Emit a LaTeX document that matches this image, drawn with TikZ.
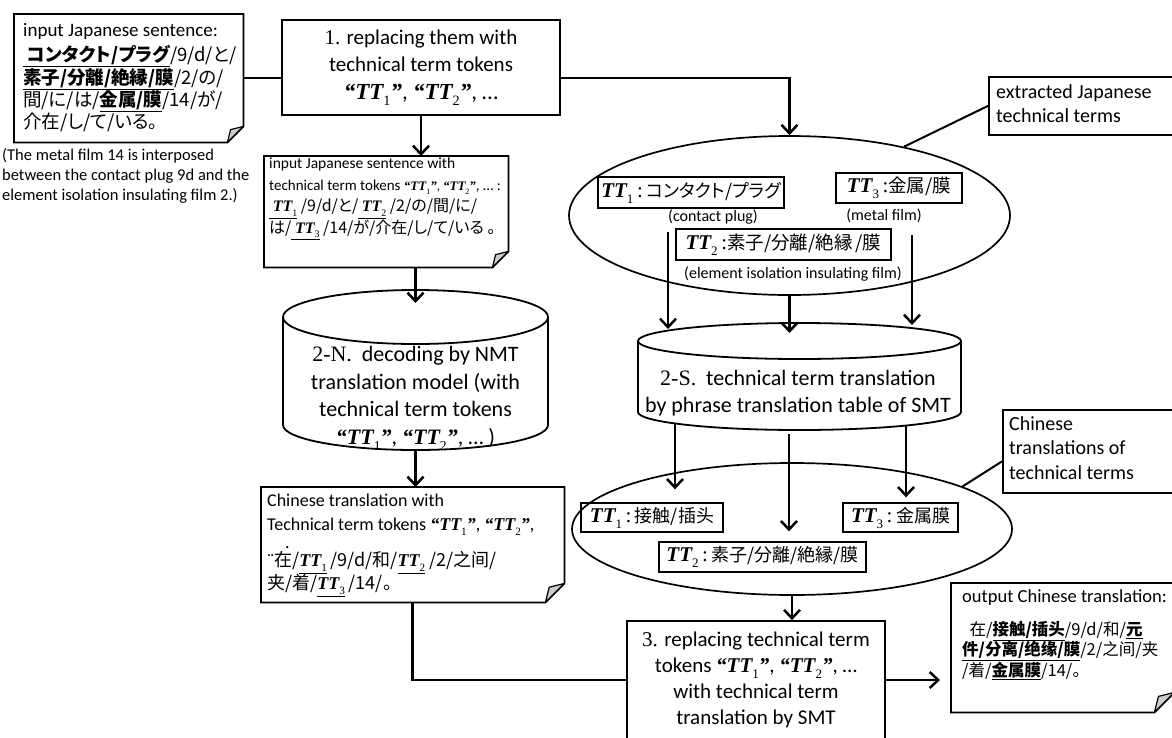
\documentclass[tikz,border=0pt]{standalone}
\usepackage{graphicx}
\usepackage{fontspec}
\setmainfont{Carlito}
\newfontfamily\tms{Liberation Serif}
\newfontfamily\jp{Noto Sans CJK JP}[RawFeature=+palt]
\newfontfamily\zh{Noto Sans CJK SC}[RawFeature=+palt]
\usetikzlibrary{arrows.meta,shapes.geometric,calc}

\newcommand\setfs[2]{\fontsize{#1}{#2}\selectfont}
% technical term token TT_n and its quoted form
\newcommand\ttk[1]{{\tms\bfseries\itshape TT}\raisebox{-0.28em}{\scalebox{0.62}{\tms #1}}}
\newcommand\qtk[1]{{\tms\bfseries\itshape “}\ttk{#1}{\tms\bfseries\itshape ”}}
% outline of a note with a folded lower right corner
\newcommand\notepath[2]{%
  \draw[shapeline] (#1.north west) -- (#1.north east) -- ([yshift=#2]#1.south east)
    -- ([xshift=-#2]#1.south east) -- (#1.south west) -- cycle;
  \draw[line width=1.2pt, fill=gray!40, line join=round]
    ([xshift=-#2]#1.south east) -- ([yshift=#2]#1.south east)
    -- ([shift={(-0.8*#2,0.8*#2)}]#1.south east) -- cycle;}

\tikzset{
  shapeline/.style={line width=1.8pt},
  boxline/.style={draw, line width=1.8pt, inner sep=0pt},
  blank/.style={inner sep=0pt, anchor=north west},
  txt/.style={inner sep=0pt, align=left, anchor=north west},
  ctext/.style={inner sep=0pt, align=center},
  term/.style={draw, line width=1.4pt, inner sep=0pt, font=\setfs{21}{24}},
  gloss/.style={inner sep=0pt, font=\setfs{16}{18}},
  link/.style={line width=2.5pt},
  arr/.style={line width=2.5pt, -{Straight Barb[length=8.5pt,width=16pt]}},
  lead/.style={line width=2pt},
}

\begin{document}
\begin{tikzpicture}[x=1pt,y=-1pt]
\useasboundingbox (0,0) rectangle (1172,737);
\clip (0,0) rectangle (1172,737);
\fill[white] (0,0) rectangle (1172,737);

% ---- input sentence note
\node[blank, minimum width=229pt, minimum height=128pt] (tl) at (14,14) {};
\notepath{tl}{16pt}
\node[txt, font=\jp\setfs{18.5}{20.5}] (tltext) at (23,23) {%
  {\rmfamily\setfs{19}{20}input Japanese sentence:}\\[5pt]
  \underline{\bfseries\ コンタクト/プラグ}/9/d/と/\\
  \underline{\bfseries 素子/分離/絶縁/膜}/2/の/\\
  間/に/は/\underline{\bfseries 金属/膜}/14/が/\\
  介在/し/て/いる。};
\node[txt, font=\setfs{16.5}{20}] (caption) at (2,148)
  {(The metal film 14 is interposed\\between the contact plug 9d and the\\element isolation insulating film 2.)};

% ---- step 1
\node[boxline, ctext, minimum width=278pt, minimum height=95pt, font=\setfs{21}{27.5}] (b1) at (421,67.5)
  {{\tms 1.} replacing them with\\technical term tokens\\{\setfs{23}{27.5}\qtk{1}, \qtk{2}, …}};

% ---- sentence with tokens
\node[blank, minimum width=244pt, minimum height=111pt] (n2) at (264,156) {};
\notepath{n2}{16pt}
\node[txt, font=\setfs{15.5}{21.5}] (n2text) at (269,158) {%
  input Japanese sentence with\\
  {\setfs{15}{15}technical term tokens {\setfs{13}{14}\qtk{1}, \qtk{2}}, … :}\\
  {\jp\setfs{16}{16}\underline{\ \ttk{1}} /9/d/と/\underline{\ \ttk{2}} /2/の/間/に/}\\
  {\jp\setfs{16}{16}は/\underline{\ \ttk{3}} /14/が/介在/し/て/いる 。}};

% ---- NMT decoding cylinder
\draw[shapeline, fill=white] (283,317) -- (283,425)
  arc[start angle=180, end angle=360, x radius=132.5pt, y radius=25pt] -- (548,317);
\draw[shapeline] (415.5,317) ellipse [x radius=132.5pt, y radius=27pt];
\node[ctext, font=\setfs{22}{27.5}] (cN) at (415.5,398.5)
  {{\tms 2-N.}\ \ decoding by NMT\\translation model (with\\technical term tokens\\\qtk{1}, \qtk{2}, … )};
\coordinate (cNtop) at (415.5,303);
\coordinate (cNbot) at (415.5,451);

% ---- Chinese translation with tokens
\node[blank, minimum width=303pt, minimum height=115pt] (n3) at (261,487) {};
\notepath{n3}{19pt}
\node[txt, font=\setfs{18}{20}] (n3text) at (267,494) {%
  Chinese translation with\\[4pt]
  Technical term tokens \qtk{1}, \qtk{2},\\[-2pt]
  \hspace*{18pt}.\\[-2pt]
  {\zh{\rmfamily ¨}在/\underline{\ttk{1}} /9/d/和/\underline{\ttk{2}} /2/之间/}\\
  {\zh 夹/着/\underline{\ttk{3}} /14/。}};

% ---- extracted Japanese terms
\node[draw, ellipse, line width=1.7pt, inner sep=0pt, minimum width=441pt, minimum height=159pt] (ejp) at (789.5,215.5) {};
\node[term, minimum width=186pt, minimum height=31pt] (j1) at (691,192.5)
  {\ttk{1}\,{\tms :}\,{\jp\setfs{18}{22}コンタクト/プラグ}};
\node[term, minimum width=126pt, minimum height=30pt] (j3) at (899,188)
  {\ttk{3}\,{\tms :}{\jp\setfs{18.5}{22}金属/膜}};
\node[term, minimum width=215pt, minimum height=31pt] (j2) at (783.5,244.5)
  {\ttk{2}\,{\tms :}{\jp\setfs{18.5}{22}素子/分離/絶縁\,/膜}};
\node[gloss] (g1) at (713,217) {(contact plug)};
\node[gloss] (g3) at (884,216) {(metal film)};
\node[gloss] (g2) at (793,274) {(element isolation insulating film)};

% ---- SMT phrase table cylinder
\draw[shapeline, fill=white] (638,341) -- (638,412)
  arc[start angle=180, end angle=360, x radius=161.5pt, y radius=18pt] -- (961,341);
\draw[shapeline] (799.5,341) ellipse [x radius=161.5pt, y radius=18pt];
\node[ctext, font=\setfs{22}{27}] (cS) at (798,393.5)
  {{\tms 2-S.}\ \ technical term translation\\by phrase translation table of SMT};

% ---- translated terms
\node[draw, ellipse, line width=1.7pt, inner sep=0pt, minimum width=440pt, minimum height=132pt] (ezh) at (792,529) {};
\node[term, minimum width=142pt, minimum height=29pt] (z1) at (652,517.5)
  {\ttk{1}\,{\tms :}\,{\zh\setfs{18}{22}接触/插头}};
\node[term, minimum width=115pt, minimum height=29pt] (z3) at (900.5,517.5)
  {\ttk{3}\,{\tms :}\,{\zh\setfs{18}{22}金属膜}};
\node[term, minimum width=207pt, minimum height=30pt] (z2) at (762.5,557)
  {\ttk{2}\,{\tms :}\,{\jp\setfs{18}{22}素子/分離/絶縁/膜}};

% ---- step 3
\node[boxline, ctext, minimum width=258pt, minimum height=118pt, font=\setfs{21}{26}] (b3) at (756,680)
  {{\tms 3.} replacing technical term\\tokens \qtk{1}, \qtk{2}, …\\with technical term\\translation by SMT};

% ---- output note
\node[blank, minimum width=223pt, minimum height=129pt] (out) at (951,583) {};
\notepath{out}{20pt}
\node[txt, font=\zh\setfs{16.5}{17.5}] (outtext) at (962,589) {%
  {\rmfamily\setfs{18.5}{18}output Chinese translation:}\\[16pt]
  \ \ 在/\underline{\bfseries 接触/插头}/9/d/和/\underline{\bfseries 元}\\
  \underline{\bfseries 件/分离/绝缘/膜}/2/之间/夹\\
  /着/\underline{\bfseries 金属膜}/14/。};

% ---- callouts
\node[boxline, anchor=north west, minimum width=186pt, minimum height=58pt] (co1) at (988,76) {};
\node[txt, font=\setfs{20}{24.5}] (co1text) at (996,84) {extracted Japanese\\technical terms};
\node[boxline, anchor=north west, minimum width=172pt, minimum height=83pt] (co2) at (1002,409) {};
\node[txt, font=\setfs{20}{24.5}] (co2text) at (1009,416) {Chinese\\translations of\\technical terms};
\draw[lead] (ejp.31) -- (co1.west);
\draw[lead] (ezh.14.5) -- ([yshift=-10pt]co2.west);

% ---- connectors
\draw[link] (tl.east) -- (tl.east -| b1.west);
\draw[arr] ([yshift=-10.5pt]b1.east) -| (ejp.north);
\draw[arr] (b1.south) -- (b1.south |- n2.north);
\draw[arr] (n2.south -| cNtop) -- (cNtop);
\draw[arr] (cNbot) -- (cNbot |- n3.north);
\draw[link] (n3.south) |- (b3.west);
\draw[arr] (ezh.south) -- (ezh.south |- b3.north);
\draw[arr, shorten >=11pt] (b3.east) -- (b3.east -| out.west);

\coordinate (ja1) at (668,232);
\coordinate (ja3) at (912,235);
\coordinate (cs1) at (668,329);
\coordinate (cs2) at (789.5,333);
\coordinate (cs3) at (912,325);
\draw[arr] (ja1) -- (cs1);
\draw[arr] (ejp.south) -- (cs2);
\draw[arr] (ja3) -- (cs3);

\coordinate (sb1) at (675,424);
\coordinate (sb2) at (789,434);
\coordinate (sb3) at (906,426);
\draw[arr, shorten >=13pt] (sb1) -- (sb1 |- z1.north);
\draw[arr, shorten >=10pt] (sb2) -- (sb2 |- z2.north);
\draw[arr, shorten >=5pt] (sb3) -- (sb3 |- z3.north);
\end{tikzpicture}
\end{document}
